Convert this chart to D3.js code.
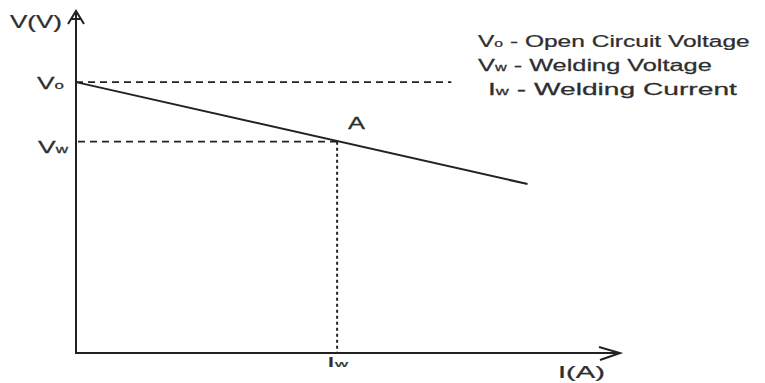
<!DOCTYPE html>
<html><head><meta charset="utf-8">
<script src="https://cdn.jsdelivr.net/npm/d3@7/dist/d3.min.js"></script>
<style>html,body{margin:0;padding:0;background:#fff;}svg{display:block;}</style>
</head><body>
<svg id="chart" width="765" height="383"></svg>
<script>
// ---- data ----
const axisNames = ["I(A)", "V(V)"];
const lineCurrent = [0, 83];          // I values of the load line end points
const lineVoltage = [79.2, 49.4];     // V values of the load line end points
const openCircuitV = 79.2;            // Vo
const openCircuitLineEndI = 69;
const weldingI = 48;                  // Iw
const weldingV = 61.8;                // Vw
const pointName = "A";
const legendSymbols = [["V", "o"], ["V", "w"], ["I", "w"]];
const legendTexts = ["Open Circuit Voltage", "Welding Voltage", "Welding Current"];

// ---- drawing ----
const svg = d3.select("#chart");
const x = d3.scaleLinear().domain([0, 100]).range([76, 620]);
const y = d3.scaleLinear().domain([0, 100]).range([353, 11]);
const ink = "#222";
const textInk = "#2e2e2e";
const font = "'Liberation Sans', Arial, Helvetica, sans-serif";

// dashed Vo line
svg.append("line").attr("x1", x(0)).attr("x2", x(openCircuitLineEndI))
  .attr("y1", y(openCircuitV)).attr("y2", y(openCircuitV))
  .attr("stroke", ink).attr("stroke-width", 1.8).attr("stroke-dasharray", "7,5");
// dashed Vw line
svg.append("line").attr("x1", x(0) + 2).attr("x2", x(weldingI))
  .attr("y1", y(weldingV)).attr("y2", y(weldingV))
  .attr("stroke", ink).attr("stroke-width", 1.8).attr("stroke-dasharray", "7,5");
// dotted Iw line
svg.append("line").attr("x1", x(weldingI)).attr("x2", x(weldingI))
  .attr("y1", y(weldingV)).attr("y2", y(0))
  .attr("stroke", ink).attr("stroke-width", 2).attr("stroke-dasharray", "3,3");

// load line
const lineData = lineCurrent.map((c, i) => [c, lineVoltage[i]]);
svg.append("path").datum(lineData)
  .attr("d", d3.line().x(d => x(d[0])).y(d => y(d[1])))
  .attr("fill", "none").attr("stroke", ink).attr("stroke-width", 2);

// axes
svg.append("line").attr("x1", x(0)).attr("x2", x(0)).attr("y1", y(0) + 1).attr("y2", y(100))
  .attr("stroke", ink).attr("stroke-width", 2);
svg.append("line").attr("x1", x(0) - 1).attr("x2", x(100)).attr("y1", y(0)).attr("y2", y(0))
  .attr("stroke", ink).attr("stroke-width", 2);
// y arrowhead (A-like)
svg.append("path")
  .attr("d", `M${x(0) - 8},${y(100) + 13} L${x(0)},${y(100)} L${x(0) + 8},${y(100) + 13} M${x(0) - 5},${y(100) + 8} L${x(0) + 5},${y(100) + 8}`)
  .attr("fill", "none").attr("stroke", ink).attr("stroke-width", 2).attr("stroke-linejoin", "miter");
// x arrowhead
svg.append("path")
  .attr("d", `M${x(100) - 21},${y(0) - 6} L${x(100)},${y(0)} L${x(100) - 20},${y(0) + 7}`)
  .attr("fill", "none").attr("stroke", ink).attr("stroke-width", 2);

// text helper: place text with horizontal stretch to a target width
function stretchedText(parts, left, baseline, size, targetWidth) {
  const g = svg.append("g");
  const t = g.append("text").attr("x", 0).attr("y", 0)
    .attr("font-family", font).attr("font-size", size).attr("fill", textInk)
    .attr("stroke", textInk).attr("stroke-width", 0.25);
  parts.forEach(p => {
    t.append("tspan").attr("font-size", p.sub ? size * 0.64 : size).text(p.t);
  });
  const w = t.node().getComputedTextLength();
  const s = targetWidth / w;
  g.attr("transform", `translate(${left},${baseline}) scale(${s},1)`);
  return g;
}

stretchedText([{t: axisNames[1]}], 10, 28, 18, 52);
stretchedText([{t: axisNames[0]}], 558, 378, 17, 47);
stretchedText([{t: "V"}, {t: "o", sub: true}], 37, 89, 17, 27);
stretchedText([{t: "V"}, {t: "w", sub: true}], 38, 153, 17, 30);
stretchedText([{t: "I"}, {t: "w", sub: true}], 327, 367, 15, 21);
stretchedText([{t: pointName}], 348, 129, 16, 17);

const legendLefts = [478, 478, 488];
const legendBaselines = [47, 71, 95];
const legendWidths = [272, 234, 249];
legendSymbols.forEach((sym, i) => {
  stretchedText([{t: sym[0]}, {t: sym[1], sub: true}, {t: " - " + legendTexts[i]}],
    legendLefts[i], legendBaselines[i], 16.5, legendWidths[i]);
});
</script>
</body></html>
